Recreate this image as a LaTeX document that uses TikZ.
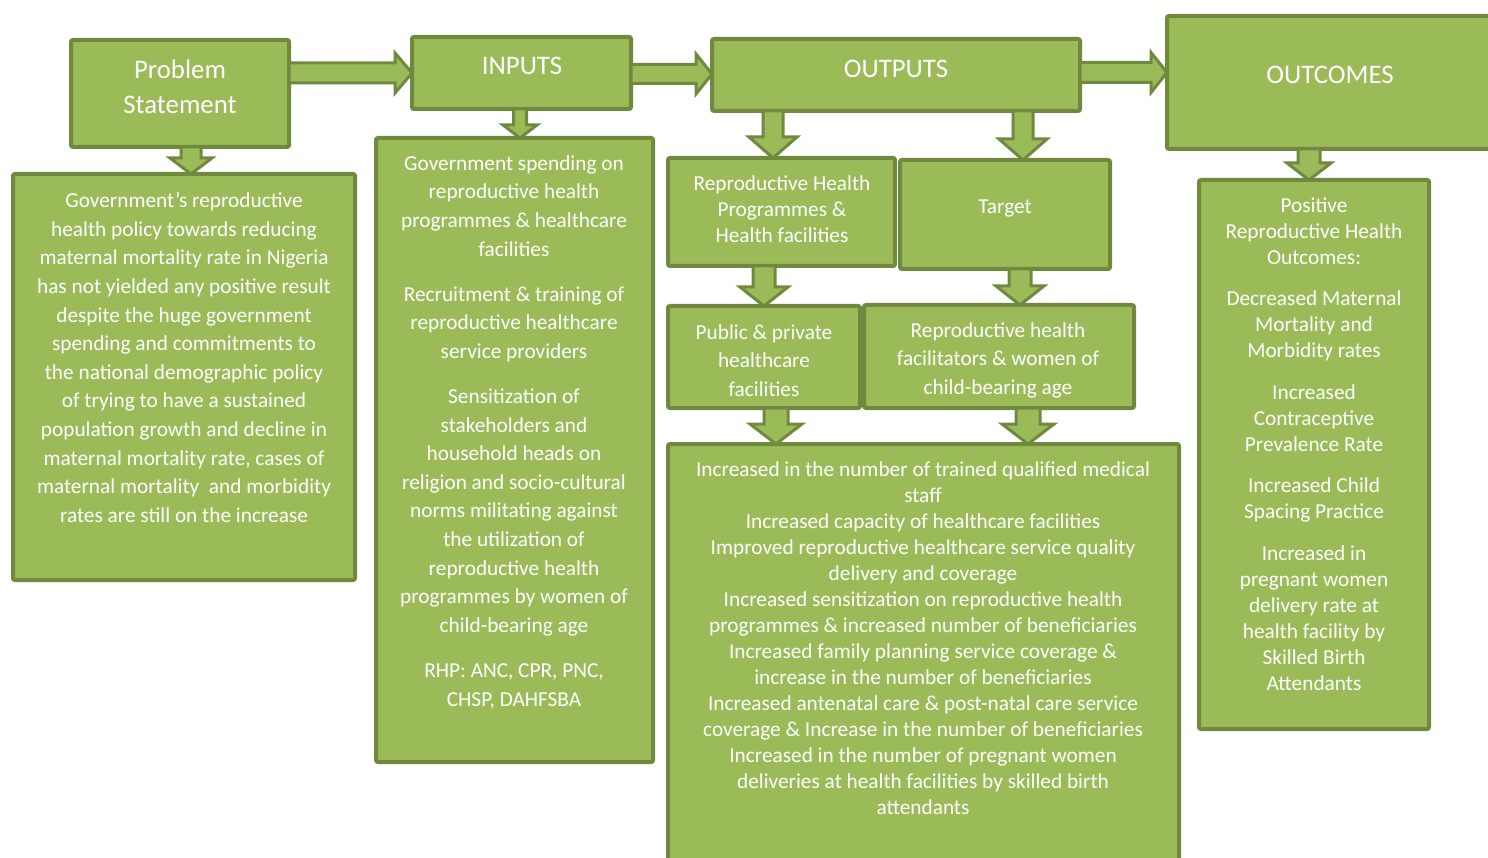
\documentclass[tikz,border=0pt]{standalone}
\usepackage{fontspec}
\setmainfont{Carlito}
\usetikzlibrary{calc}
\definecolor{gfill}{HTML}{9BBB59}
\definecolor{gline}{HTML}{71893F}
\tikzset{
  box/.style={draw=gline, fill=gfill, line width=4pt, rounded corners=2pt, inner sep=0pt, outer sep=0pt},
  barrow/.style={draw=gline, fill=gfill, line width=3pt, line join=miter},
  txt/.style={text=white, align=center, inner sep=0pt, anchor=north},
  hdr/.style={txt, font=\fontsize{26.8}{35}\selectfont},
  bodyA/.style={txt, font=\fontsize{21.3}{28.6}\selectfont},
  bodyB/.style={txt, font=\fontsize{21.3}{26}\selectfont},
}
% right block arrow: #1 start, #2 end, #3 shaft half, #4 head half, #5 head length
\newcommand\rblock[5]{%
  \path[barrow] let \p1=(#1), \p2=(#2) in
    (\x1,\y1+#3pt) -- (\x2-#5pt,\y1+#3pt) -- (\x2-#5pt,\y1+#4pt) -- (\x2,\y1)
    -- (\x2-#5pt,\y1-#4pt) -- (\x2-#5pt,\y1-#3pt) -- (\x1,\y1-#3pt) -- cycle;}
% down block arrow
\newcommand\dblock[5]{%
  \path[barrow] let \p1=(#1), \p2=(#2) in
    (\x1-#3pt,\y1) -- (\x1-#3pt,\y2+#5pt) -- (\x1-#4pt,\y2+#5pt) -- (\x1,\y2)
    -- (\x1+#4pt,\y2+#5pt) -- (\x1+#3pt,\y2+#5pt) -- (\x1+#3pt,\y1) -- cycle;}
\begin{document}
\begin{tikzpicture}[x=1pt,y=-1pt]
\useasboundingbox (0,0) rectangle (1488,858);
\clip (0,0) rectangle (1488,858);

% boxes
\node[box, minimum width=218, minimum height=107] (ps)  at (180,93.5) {};
\node[box, minimum width=342, minimum height=406] (psb) at (184,377) {};
\node[box, minimum width=219, minimum height=72]  (in)  at (521.5,73) {};
\node[box, minimum width=277, minimum height=624] (inb) at (514.5,450) {};
\node[box, minimum width=368, minimum height=72]  (out) at (896,75) {};
\node[box, minimum width=331, minimum height=133] (oc)  at (1332.5,82.5) {};
\node[box, minimum width=227, minimum height=108] (rhp) at (781.5,212) {};
\node[box, minimum width=210, minimum height=109] (tgt) at (1005,214.5) {};
\node[box, minimum width=192, minimum height=102] (pub) at (764,357) {};
\node[box, minimum width=270, minimum height=103] (rhf) at (999,356.5) {};
\node[box, minimum width=511, minimum height=424] (big) at (923.5,656) {};
\node[box, minimum width=230, minimum height=549] (ocb) at (1314,454.5) {};

% arrow guide coordinates
\coordinate (r1) at (0,73);
\coordinate (r2) at (0,74);
\coordinate (r3) at (0,72.5);
\coordinate (d1) at (191,0);
\coordinate (d2) at (520,0);
\coordinate (d3) at (773,0);
\coordinate (d4) at (1023,0);
\coordinate (d5) at (764,0);
\coordinate (d6) at (1020,0);
\coordinate (d7) at (776,0);
\coordinate (d8) at (1028,0);
\coordinate (d9) at (1309,0);

% horizontal arrows
\rblock{ps.east |- r1}{in.west |- r1}{10}{20}{17}
\rblock{in.east |- r2}{out.west |- r2}{9.5}{20}{16}
\rblock{out.east |- r3}{oc.west |- r3}{10}{20}{16}

% vertical arrows
\dblock{ps.south -| d1}{psb.north -| d1}{10}{21}{16}
\dblock{in.south -| d2}{inb.north -| d2}{6.5}{17}{13}
\dblock{out.south -| d3}{rhp.north -| d3}{10}{24}{21}
\dblock{out.south -| d4}{tgt.north -| d4}{10}{24}{21}
\dblock{rhp.south -| d5}{pub.north -| d5}{11}{24}{19}
\dblock{tgt.south -| d6}{rhf.north -| d6}{11}{24}{19}
\dblock{pub.south -| d7}{big.north -| d7}{12}{26}{20}
\dblock{rhf.south -| d8}{big.north -| d8}{12}{26}{20}
\dblock{oc.south -| d9}{ocb.north -| d9}{11}{22}{17}

% headers
\node[hdr] (tps) at (180,60) {Problem\\Statement};
\node[hdr] (tin) at (522,57.4) {INPUTS};
\node[hdr] (tout) at (896,60) {OUTPUTS};
\node[hdr] (toc) at (1330,66) {OUTCOMES};

% bodies
\node[bodyA] (tpsb) at (184,192.4) {Government’s reproductive\\
health policy towards reducing\\
maternal mortality rate in Nigeria\\
has not yielded any positive result\\
despite the huge government\\
spending and commitments to\\
the national demographic policy\\
of trying to have a sustained\\
population growth and decline in\\
maternal mortality rate, cases of\\
maternal mortality\ \ and morbidity\\
rates are still on the increase};

\node[bodyA] (tinb) at (514,155.4) {Government spending on\\
reproductive health\\
programmes \& healthcare\\
facilities\\[16.5pt]
Recruitment \& training of\\
reproductive healthcare\\
service providers\\[16.5pt]
Sensitization of\\
stakeholders and\\
household heads on\\
religion and socio-cultural\\
norms militating against\\
the utilization of\\
reproductive health\\
programmes by women of\\
child-bearing age\\[16.5pt]
RHP: ANC, CPR, PNC,\\
CHSP, DAHFSBA};

\node[bodyB] (trhp) at (782,175.5) {Reproductive Health\\Programmes \&\\Health facilities};
\node[bodyB] (ttgt) at (1005,199.5) {Target};
\node[bodyA] (tpub) at (764,324.3) {Public \& private\\healthcare\\facilities};
\node[bodyA] (trhf) at (998,322.3) {Reproductive health\\facilitators \& women of\\child-bearing age};

\node[bodyB] (tbig) at (923,461.5) {Increased in the number of trained qualified medical\\
staff\\
Increased capacity of healthcare facilities\\
Improved reproductive healthcare service quality\\
delivery and coverage\\
Increased sensitization on reproductive health\\
programmes \& increased number of beneficiaries\\
Increased family planning service coverage \&\\
increase in the number of beneficiaries\\
Increased antenatal care \& post-natal care service\\
coverage \& Increase in the number of beneficiaries\\
Increased in the number of pregnant women\\
deliveries at health facilities by skilled birth\\
attendants};

\node[bodyB] (tocb) at (1314,197.5) {Positive\\
Reproductive Health\\
Outcomes:\\[15.5pt]
Decreased Maternal\\
Mortality and\\
Morbidity rates\\[15.5pt]
Increased\\
Contraceptive\\
Prevalence Rate\\[15.5pt]
Increased Child\\
Spacing Practice\\[15.5pt]
Increased in\\
pregnant women\\
delivery rate at\\
health facility by\\
Skilled Birth\\
Attendants};
\end{tikzpicture}
\end{document}
